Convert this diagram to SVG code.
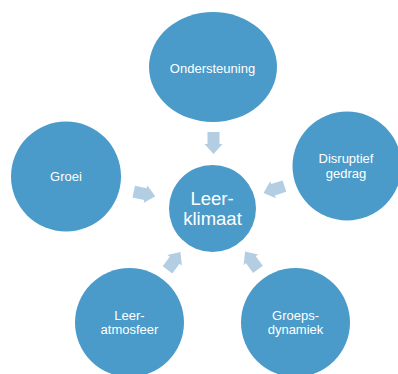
<svg xmlns="http://www.w3.org/2000/svg" width="398" height="374" viewBox="0 0 398 374">
  <style>
    .node { fill: #4a9bc9; }
    .lbl { fill: #ffffff; font-family: "Liberation Sans", Arial, sans-serif; font-size: 13px; text-anchor: middle; }
    .big { font-size: 18.5px; }
    .arrow { fill: #b3cde3; }
  </style>
  <defs>
    <polygon id="arr" points="-11,-6 1,-6 1,-9 11,0 1,9 1,6 -11,6"/>
  </defs>
  <rect width="398" height="374" fill="#ffffff"/>
  <g id="connectors">
    <use href="#arr" class="arrow" transform="translate(213.5,143) rotate(90)"/>
    <use href="#arr" class="arrow" transform="translate(144.5,194) rotate(12)"/>
    <use href="#arr" class="arrow" transform="translate(274,189.5) rotate(162)"/>
    <use href="#arr" class="arrow" transform="translate(174,261) rotate(-54)"/>
    <use href="#arr" class="arrow" transform="translate(251.5,260.5) rotate(-126)"/>
  </g>
  <g id="ondersteuning">
    <ellipse class="node" cx="213" cy="67" rx="64" ry="55"/>
    <text class="lbl" x="212.5" y="72.5">Ondersteuning</text>
  </g>
  <g id="groei">
    <circle class="node" cx="66" cy="176.5" r="55"/>
    <text class="lbl" x="66" y="181">Groei</text>
  </g>
  <g id="disruptief">
    <circle class="node" cx="347" cy="166" r="54.5"/>
    <text class="lbl" x="346" y="163">Disruptief</text>
    <text class="lbl" x="346" y="177.5">gedrag</text>
  </g>
  <g id="leerklimaat">
    <circle class="node" cx="212.5" cy="208.5" r="43.5"/>
    <text class="lbl big" x="212" y="205">Leer-</text>
    <text class="lbl big" x="212.5" y="225">klimaat</text>
  </g>
  <g id="leeratmosfeer">
    <circle class="node" cx="129.5" cy="322.5" r="54.5"/>
    <text class="lbl" x="129.5" y="320">Leer-</text>
    <text class="lbl" x="129.5" y="334">atmosfeer</text>
  </g>
  <g id="groepsdynamiek">
    <circle class="node" cx="295.5" cy="322.5" r="54.5"/>
    <text class="lbl" x="295.5" y="320">Groeps-</text>
    <text class="lbl" x="295.5" y="334">dynamiek</text>
  </g>
</svg>
